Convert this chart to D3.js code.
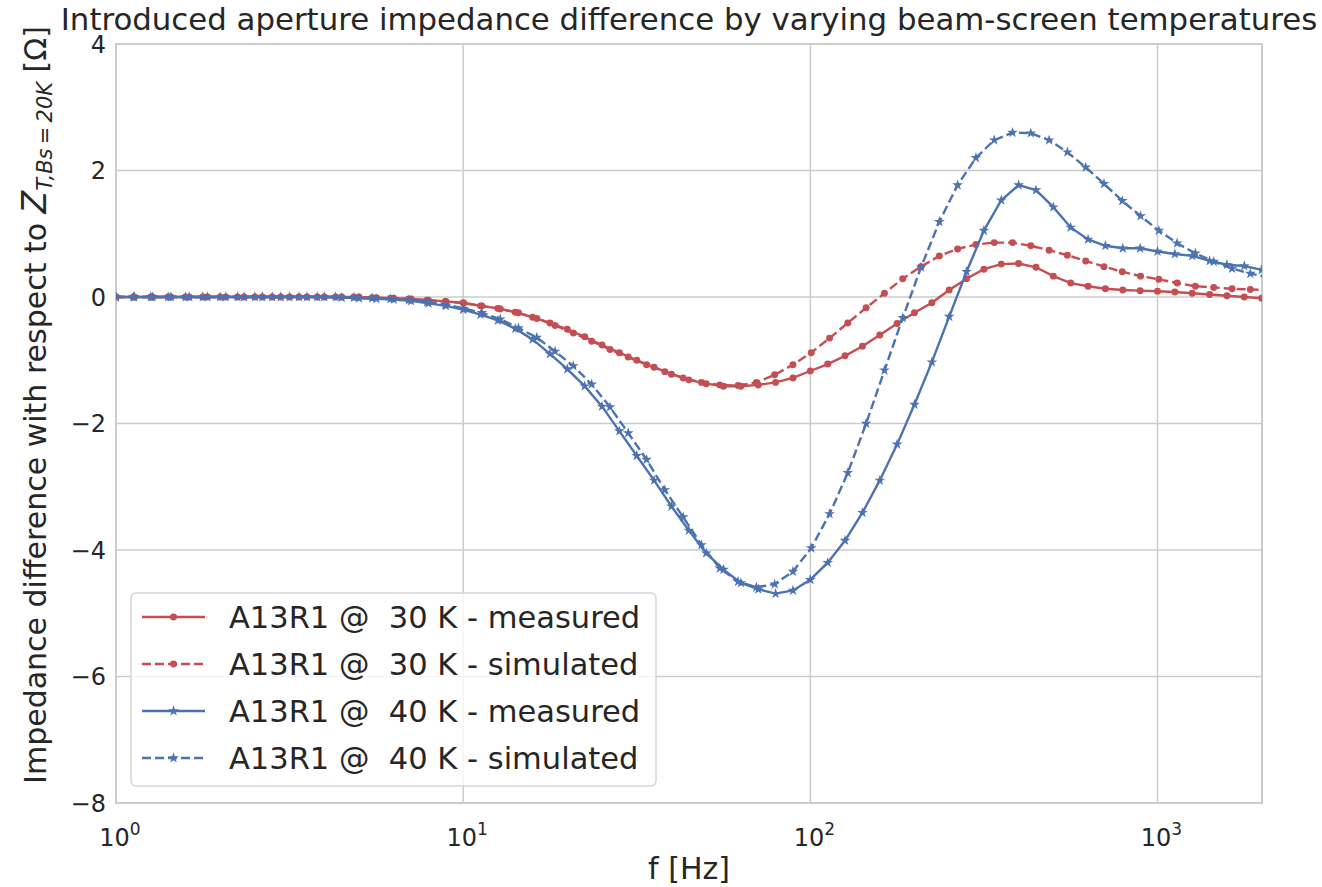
<!DOCTYPE html>
<html>
<head>
<meta charset="utf-8">
<script src="https://cdn.jsdelivr.net/npm/d3@7"></script>
<style>
  body { margin: 0; background: #fff; }
  text { font-family: "DejaVu Sans", sans-serif; fill: #262626; white-space: pre; }
</style>
</head>
<body>
<div id="chart"></div>
<script>
// Frequencies of the measured points [Hz]
const fMeasured = [
  1, 1.122, 1.259, 1.413, 1.585, 1.778, 1.995, 2.239, 2.512, 2.818,
  3.162, 3.548, 3.981, 4.467, 5.012, 5.623, 6.310, 7.079, 7.943, 8.913,
  10.00, 11.22, 12.59, 14.13, 15.85, 17.78, 19.95, 22.39, 25.12, 28.18,
  31.62, 35.48, 39.81, 44.67, 50.12, 56.23, 63.10, 70.79, 79.43, 89.13,
  100.0, 112.2, 125.9, 141.3, 158.5, 177.8, 199.5, 223.9, 251.2, 281.8,
  316.2, 354.8, 398.1, 446.7, 501.2, 562.3, 631.0, 707.9, 794.3, 891.3,
  1000, 1122, 1259, 1413, 1585, 1778, 1995
];
// Frequencies of the simulated points [Hz]
const fSimulated = [
  1.000, 1.129, 1.275, 1.439, 1.625, 1.834, 2.071, 2.338, 2.640, 2.981,
  3.365, 3.799, 4.289, 4.843, 5.467, 6.173, 6.969, 7.868, 8.884, 10.03,
  11.32, 12.79, 14.43, 16.30, 18.40, 20.77, 23.45, 26.48, 29.89, 33.75,
  38.11, 43.02, 48.58, 54.84, 61.92, 69.91, 78.93, 89.11, 100.6, 113.6,
  128.2, 144.8, 163.5, 184.6, 208.4, 235.3, 265.6, 299.9, 338.6, 382.3,
  431.5, 487.3, 550.1, 621.1, 701.3, 791.7, 893.9, 1009, 1139, 1286,
  1452, 1640, 1851, 2090
];

// Impedance difference [Ohm]
const meas30 = [
  0, 0, 0, 0, 0, 0, 0, 0, 0, 0,
  0, 0, 0, 0, 0, -0.01, -0.02, -0.03, -0.05, -0.07,
  -0.09, -0.14, -0.18, -0.24, -0.32, -0.41, -0.51, -0.63, -0.76, -0.88,
  -1.00, -1.11, -1.22, -1.31, -1.37, -1.41, -1.41, -1.39, -1.35, -1.28,
  -1.17, -1.06, -0.93, -0.78, -0.60, -0.42, -0.25, -0.09, 0.11, 0.29,
  0.44, 0.52, 0.53, 0.47, 0.33, 0.22, 0.17, 0.13, 0.11, 0.10,
  0.09, 0.08, 0.06, 0.04, 0.02, 0.00, -0.02
];
const sim30 = [
  0, 0, 0, 0, 0, 0, 0, 0, 0, 0,
  0, 0, 0, 0, -0.01, -0.02, -0.03, -0.05, -0.07, -0.10,
  -0.14, -0.19, -0.25, -0.34, -0.45, -0.57, -0.70, -0.83, -0.95, -1.07,
  -1.18, -1.28, -1.35, -1.39, -1.40, -1.35, -1.23, -1.07, -0.88, -0.65,
  -0.41, -0.17, 0.06, 0.29, 0.48, 0.65, 0.76, 0.83, 0.86, 0.86,
  0.81, 0.74, 0.66, 0.57, 0.48, 0.40, 0.33, 0.28, 0.22, 0.17,
  0.15, 0.13, 0.12, 0.11
];
const meas40 = [
  0, 0, 0, 0, 0, 0, 0, 0, 0, 0,
  0, 0, 0, -0.01, -0.02, -0.03, -0.04, -0.06, -0.10, -0.14,
  -0.20, -0.28, -0.37, -0.50, -0.67, -0.90, -1.14, -1.41, -1.73, -2.12,
  -2.51, -2.90, -3.31, -3.69, -4.05, -4.31, -4.52, -4.62, -4.69, -4.64,
  -4.47, -4.20, -3.85, -3.41, -2.90, -2.33, -1.70, -1.03, -0.31, 0.40,
  1.05, 1.53, 1.77, 1.69, 1.42, 1.10, 0.91, 0.81, 0.77, 0.77,
  0.72, 0.68, 0.65, 0.57, 0.51, 0.49, 0.43
];
const sim40 = [
  0, 0, 0, 0, 0, 0, 0, 0, 0, 0,
  0, 0, 0, -0.01, -0.02, -0.03, -0.05, -0.08, -0.12, -0.18,
  -0.25, -0.35, -0.49, -0.64, -0.86, -1.09, -1.38, -1.74, -2.15, -2.57,
  -3.05, -3.48, -3.92, -4.29, -4.50, -4.59, -4.54, -4.34, -3.97, -3.43,
  -2.78, -2.00, -1.16, -0.33, 0.47, 1.19, 1.77, 2.20, 2.48, 2.60,
  2.59, 2.48, 2.29, 2.05, 1.79, 1.52, 1.28, 1.05, 0.85, 0.69,
  0.56, 0.45, 0.37, 0.31
];

const seriesNames = [
  "A13R1 @  30 K - measured",
  "A13R1 @  30 K - simulated",
  "A13R1 @  40 K - measured",
  "A13R1 @  40 K - simulated"
];
const yTicks = [4, 2, 0, -2, -4, -6, -8];
const xTickExponents = [0, 1, 2, 3];

const red = "#c44e52", blue = "#4c72b0";
const series = [
  { name: seriesNames[0], f: fMeasured, v: meas30, color: red, dashed: false, marker: d3.symbolCircle, msize: 38 },
  { name: seriesNames[1], f: fSimulated, v: sim30, color: red, dashed: true, marker: d3.symbolCircle, msize: 38 },
  { name: seriesNames[2], f: fMeasured, v: meas40, color: blue, dashed: false, marker: d3.symbolStar, msize: 36 },
  { name: seriesNames[3], f: fSimulated, v: sim40, color: blue, dashed: true, marker: d3.symbolStar, msize: 36 }
];

const width = 1322, height = 887;
const marginTop = 44, marginRight = 60, marginBottom = 84, marginLeft = 116;

const x = d3.scaleLog()
  .domain([1, 2000])
  .range([marginLeft, width - marginRight]);
const y = d3.scaleLinear()
  .domain([-8, 4])
  .range([height - marginBottom, marginTop]);

const svg = d3.create("svg")
  .attr("width", width)
  .attr("height", height)
  .attr("viewBox", [0, 0, width, height]);
d3.select("#chart").append(() => svg.node());

svg.append("clipPath").attr("id", "plot-clip")
  .append("rect")
  .attr("x", marginLeft).attr("y", marginTop)
  .attr("width", width - marginLeft - marginRight)
  .attr("height", height - marginTop - marginBottom);

// grid
svg.append("g")
  .attr("stroke", "#cccccc")
  .attr("stroke-width", 1.5)
  .call(g => g.selectAll(".gx").data(xTickExponents).join("line")
    .attr("x1", d => x(10 ** d)).attr("x2", d => x(10 ** d))
    .attr("y1", marginTop).attr("y2", height - marginBottom))
  .call(g => g.selectAll(".gy").data(yTicks).join("line")
    .attr("x1", marginLeft).attr("x2", width - marginRight)
    .attr("y1", d => y(d)).attr("y2", d => y(d)));

// frame
svg.append("rect")
  .attr("x", marginLeft).attr("y", marginTop)
  .attr("width", width - marginLeft - marginRight)
  .attr("height", height - marginTop - marginBottom)
  .attr("fill", "none").attr("stroke", "#cccccc").attr("stroke-width", 2);

// y tick labels
svg.append("g")
  .selectAll("text").data(yTicks).join("text")
  .attr("x", marginLeft - 10)
  .attr("y", d => y(d))
  .attr("dy", "0.36em")
  .attr("text-anchor", "end")
  .attr("font-size", 24)
  .text(d => d < 0 ? "\u2212" + Math.abs(d) : d);

// x tick labels 10^n
const xt = svg.append("g")
  .selectAll("text").data(xTickExponents).join("text")
  .attr("x", d => x(10 ** d) + 4)
  .attr("y", height - marginBottom + 43)
  .attr("text-anchor", "middle")
  .attr("font-size", 24);
xt.append("tspan").text("10");
xt.append("tspan").attr("dy", -11).attr("font-size", 17).text(d => d);

// lines and markers
const plot = svg.append("g").attr("clip-path", "url(#plot-clip)");
for (const s of series) {
  const pts = s.f.map((f, i) => ({ f, v: s.v[i] }));
  plot.append("path")
    .datum(pts)
    .attr("fill", "none")
    .attr("stroke", s.color)
    .attr("stroke-width", 2.4)
    .attr("stroke-dasharray", s.dashed ? "9,4" : null)
    .attr("d", d3.line().x(d => x(d.f)).y(d => y(d.v)));
  plot.append("g")
    .attr("fill", s.color)
    .selectAll("path").data(pts).join("path")
    .attr("transform", d => `translate(${x(d.f)},${y(d.v)})`)
    .attr("d", d3.symbol(s.marker, s.msize));
}

// title
svg.append("text")
  .attr("x", (marginLeft + width - marginRight) / 2)
  .attr("y", 30)
  .attr("text-anchor", "middle")
  .attr("font-size", 30.8)
  .text("Introduced aperture impedance difference by varying beam-screen temperatures");

// x label
svg.append("text")
  .attr("x", (marginLeft + width - marginRight) / 2)
  .attr("y", height - 8)
  .attr("text-anchor", "middle")
  .attr("font-size", 30)
  .text("f [Hz]");

// y label
const yl = svg.append("text")
  .attr("transform", `translate(46,405) rotate(-90)`)
  .attr("text-anchor", "middle")
  .attr("font-size", 30);
yl.append("tspan").text("Impedance difference with respect to ");
yl.append("tspan").attr("font-style", "italic").attr("font-size", 33).text("Z");
yl.append("tspan").attr("font-style", "italic").attr("font-size", 21).attr("dy", 6).text("T,Bs\u2009=\u200920K");
yl.append("tspan").attr("dy", -6).text(" [\u03a9]");

// legend
const lg = svg.append("g").attr("transform", "translate(131,593)");
lg.append("rect")
  .attr("width", 525).attr("height", 193)
  .attr("rx", 5)
  .attr("fill", "#fff").attr("fill-opacity", 0.8)
  .attr("stroke", "#d6d6d6").attr("stroke-width", 1.5);
series.forEach((s, i) => {
  const row = lg.append("g").attr("transform", `translate(0,${24 + i * 47})`);
  row.append("line")
    .attr("x1", 11).attr("x2", 74)
    .attr("stroke", s.color).attr("stroke-width", 2.4)
    .attr("stroke-dasharray", s.dashed ? "9,4" : null);
  row.append("path")
    .attr("transform", "translate(42.5,0)")
    .attr("fill", s.color)
    .attr("d", d3.symbol(s.marker, s.msize)());
  row.append("text")
    .attr("x", 98).attr("dy", "0.36em")
    .attr("font-size", 30.5)
    .text(s.name);
});
</script>
</body>
</html>
